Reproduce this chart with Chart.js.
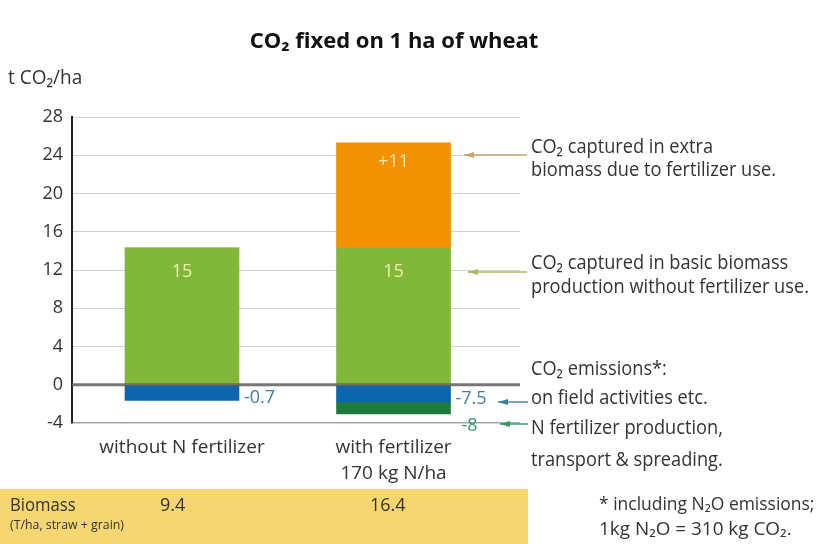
<!DOCTYPE html>
<html><head><meta charset="utf-8">
<script src="https://cdn.jsdelivr.net/npm/chart.js@4/dist/chart.umd.min.js"></script>
<style>html,body{margin:0;padding:0;background:#fff;overflow:hidden}#wrap{width:821px;height:544px;position:relative}</style>
</head><body><div id="wrap"><canvas id="c" width="821" height="544"></canvas></div>
<script>
// ---- data ----
const categories = [["without N fertilizer"], ["with fertilizer", "170 kg N/ha"]];
const categoryPositions = [1, 2];
const basicBiomassCO2 = [14.3, 14.3];
const extraBiomassCO2 = [0, 11.0];
const fieldActivityCO2 = [-1.65, -1.8];
const fertilizerProductionCO2 = [0, -1.25];
const basicLabels = ["15", "15"];
const extraLabels = ["", "+11"];
const fieldLabels = ["-0.7", "-7.5"];
const fertilizerLabels = ["", "-8"];
const biomassValues = ["9.4", "16.4"];
const yMin = -4, yMax = 28, yStep = 4;

const FONT = '"Open Sans", "Noto Sans", sans-serif';
const TEXT = '#333333';

function pts(arr) { return categoryPositions.map((x, i) => ({ x: x, y: arr[i] })); }

// draw text horizontally condensed (reference uses a condensed typeface)
function condensedText(ctx, text, x, y, k) {
  ctx.save();
  ctx.translate(x, y);
  ctx.scale(k, 1);
  ctx.fillText(text, 0, 0);
  ctx.restore();
}

const annotationPlugin = {
  id: 'annotations',
  afterDatasetsDraw(chart) {
    const ctx = chart.ctx;
    const ys = chart.scales.y;
    const area = chart.chartArea;
    const y0 = ys.getPixelForValue(0);
    ctx.save();
    ctx.strokeStyle = 'rgba(95,95,95,0.85)';
    ctx.lineWidth = 3;
    ctx.beginPath(); ctx.moveTo(area.left, y0); ctx.lineTo(area.right, y0); ctx.stroke();
    ctx.restore();
  },
  afterDraw(chart) {
    const ctx = chart.ctx;
    const metas = [0, 1, 2, 3].map(i => chart.getDatasetMeta(i));
    ctx.save();
    ctx.textBaseline = 'middle';
    // in-bar labels
    ctx.font = '18px ' + FONT;
    ctx.textAlign = 'center';
    metas[0].data.forEach((el, i) => {
      if (basicLabels[i]) { ctx.fillStyle = '#eaf2b0'; ctx.fillText(basicLabels[i], el.x, el.y + 24); }
    });
    metas[1].data.forEach((el, i) => {
      if (extraLabels[i]) { ctx.fillStyle = '#fde3b8'; ctx.fillText(extraLabels[i], el.x, el.y + 19); }
    });
    ctx.textAlign = 'left';
    metas[2].data.forEach((el, i) => {
      if (fieldLabels[i]) { ctx.fillStyle = '#3d7ea6'; ctx.fillText(fieldLabels[i], el.x + el.width / 2 + 5, (el.y + el.base) / 2 + 5); }
    });
    metas[3].data.forEach((el, i) => {
      if (fertilizerLabels[i]) { ctx.fillStyle = '#2e9a6c'; ctx.fillText(fertilizerLabels[i], el.x + el.width / 2 + 11, el.y + 12); }
    });

    // title
    ctx.textAlign = 'center';
    ctx.fillStyle = '#111';
    ctx.font = 'bold 22px ' + FONT;
    ctx.fillText('CO\u2082 fixed on 1 ha of wheat', 394, 42);
    // y-axis title
    ctx.textAlign = 'left';
    ctx.fillStyle = TEXT;
    ctx.font = '20px ' + FONT;
    condensedText(ctx, 't CO\u2082/ha', 8, 78, 0.95);

    // arrows
    function arrow(x1, x2, y, color) {
      ctx.strokeStyle = color; ctx.fillStyle = color; ctx.lineWidth = 1.4;
      ctx.beginPath(); ctx.moveTo(x1, y); ctx.lineTo(x2, y); ctx.stroke();
      ctx.beginPath(); ctx.moveTo(x2, y); ctx.lineTo(x2 + 10, y - 3); ctx.lineTo(x2 + 10, y + 3); ctx.closePath(); ctx.fill();
    }
    arrow(527, 464, 155, '#c9a46a');
    arrow(527, 468, 272, '#a9bb5e');
    arrow(528, 498, 402, '#3d7ea6');
    arrow(528, 500, 424, '#2e9a6c');

    // right-side notes
    ctx.fillStyle = TEXT;
    ctx.font = '20px ' + FONT;
    const notes = [
      ['CO\u2082 captured in extra', 147],
      ['biomass due to fertilizer use.', 170],
      ['CO\u2082 captured in basic biomass', 263],
      ['production without fertilizer use.', 287],
      ['CO\u2082 emissions*:', 369],
      ['on field activities etc.', 398],
      ['N fertilizer production,', 428],
      ['transport & spreading.', 460]
    ];
    notes.forEach(n => condensedText(ctx, n[0], 531, n[1], 0.91));

    // biomass band
    ctx.fillStyle = '#f6d671';
    ctx.fillRect(0, 489, 528, 55);
    ctx.fillStyle = TEXT;
    ctx.font = '19px ' + FONT;
    condensedText(ctx, 'Biomass', 10, 506, 0.88);
    ctx.font = '13px ' + FONT;
    condensedText(ctx, '(T/ha, straw + grain)', 10, 525, 0.95);
    ctx.font = '18px ' + FONT;
    ctx.fillText(biomassValues[0], 160, 506);
    ctx.fillText(biomassValues[1], 370, 506);

    // footnote
    ctx.font = '18px ' + FONT;
    condensedText(ctx, '* including N\u2082O emissions;', 599, 505, 0.97);
    condensedText(ctx, '1kg N\u2082O = 310 kg CO\u2082.', 599, 530, 1.05);
    ctx.restore();
  }
};

new Chart(document.getElementById('c'), {
  type: 'bar',
  data: {
    datasets: [
      { label: 'CO\u2082 captured in basic biomass', data: pts(basicBiomassCO2), backgroundColor: '#82b83a' },
      { label: 'CO\u2082 captured in extra biomass', data: pts(extraBiomassCO2), backgroundColor: '#f39200' },
      { label: 'Field activities', data: pts(fieldActivityCO2), backgroundColor: '#0b66ad' },
      { label: 'N fertilizer production', data: pts(fertilizerProductionCO2), backgroundColor: '#1d7b3b' }
    ]
  },
  options: {
    responsive: false,
    animation: false,
    devicePixelRatio: 1,
    barThickness: 114,
    layout: { padding: { top: 117, right: 301, bottom: 0, left: 0 } },
    plugins: { legend: { display: false }, tooltip: { enabled: false }, title: { display: false } },
    scales: {
      x: {
        type: 'linear', min: 0.48, max: 2.598, stacked: true, offset: false,
        grid: { display: false, offset: false }, border: { display: false },
        afterBuildTicks: s => { s.ticks = categoryPositions.map(v => ({ value: v })); },
        afterFit: s => { s.height = 121; },
        ticks: {
          autoSkip: false, maxRotation: 0, padding: 4, color: TEXT,
          font: { family: FONT, size: 19, lineHeight: 1.35 },
          callback: v => categories[categoryPositions.indexOf(v)]
        }
      },
      y: {
        min: yMin, max: yMax, stacked: true,
        afterFit: s => { s.width = 72; },
        ticks: { stepSize: yStep, color: TEXT, padding: 9, font: { family: FONT, size: 18 } },
        grid: {
          drawTicks: false,
          color: c => c.tick.value === 0 ? 'rgba(0,0,0,0)' : (c.tick.value === yMin ? '#a8a8a8' : '#d2d2d2'),
          lineWidth: c => c.tick.value === yMin ? 1.5 : 1
        },
        border: { color: '#222', width: 2 }
      }
    }
  },
  plugins: [annotationPlugin]
});
</script></body></html>
